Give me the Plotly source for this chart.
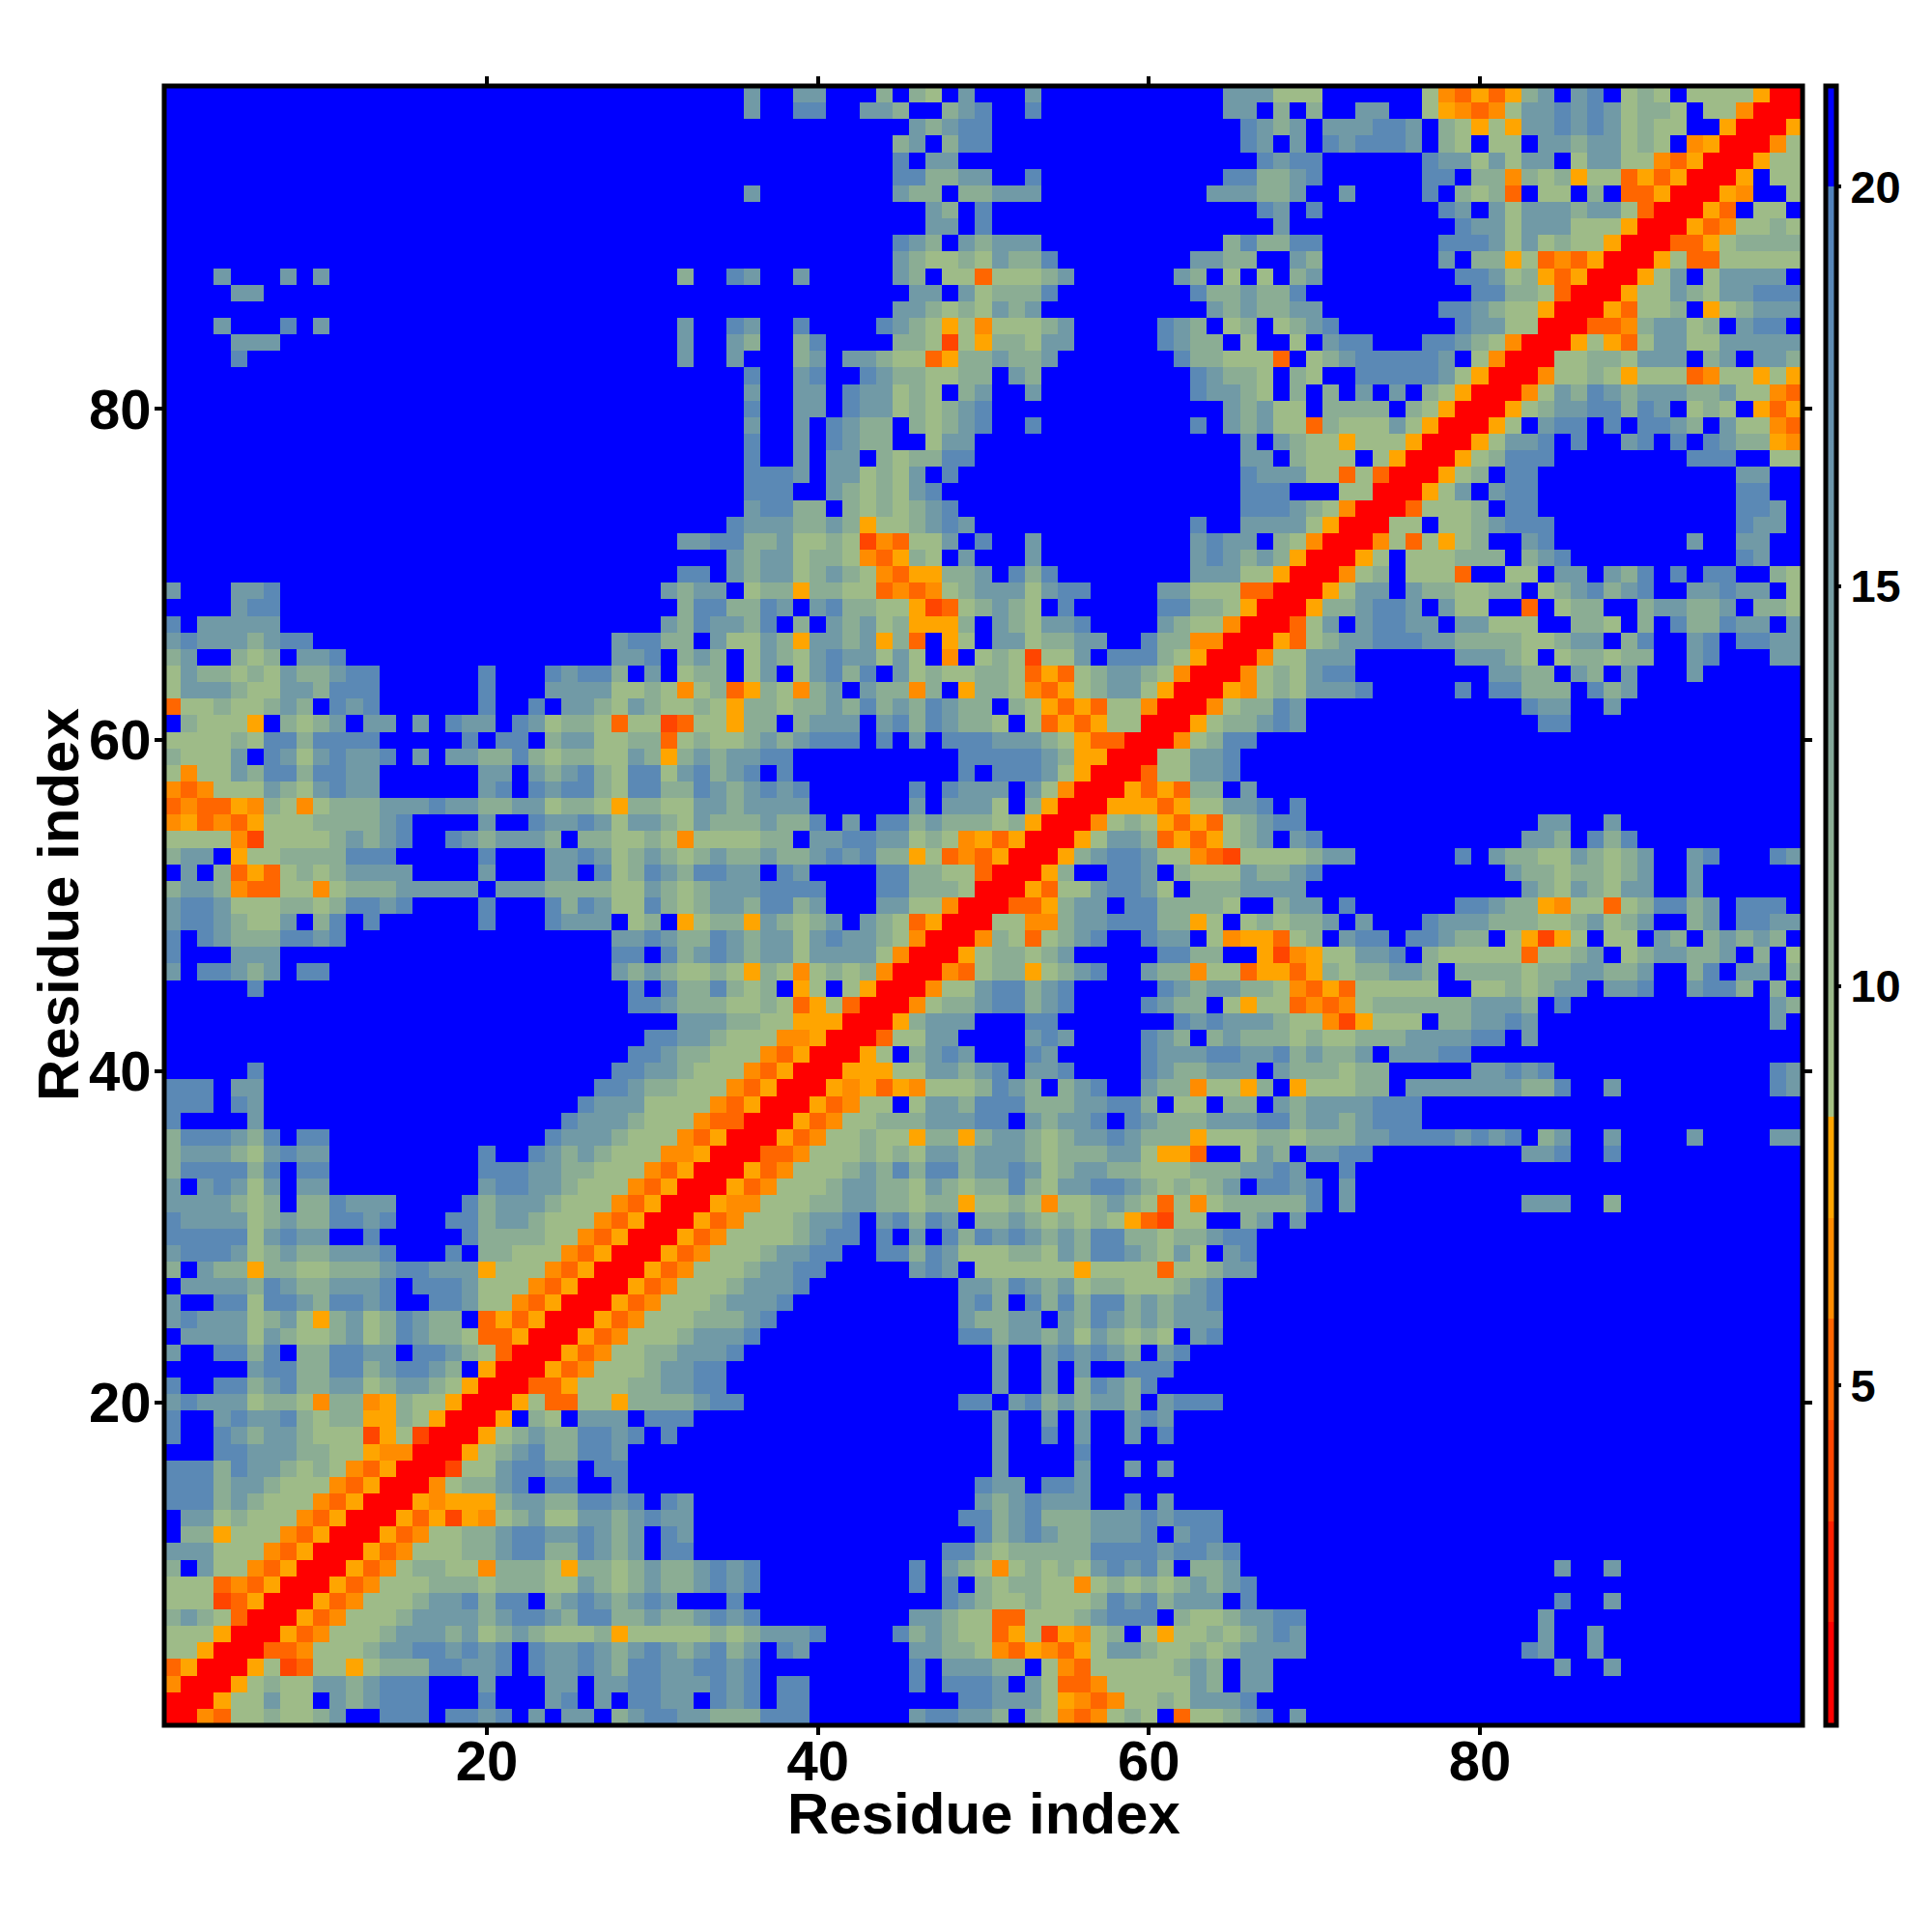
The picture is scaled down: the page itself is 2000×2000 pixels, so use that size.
import re
import plotly.graph_objects as go

# Distance classes (Å): value per letter
LEVELS = {"R": 1.2, "o": 4.0, "p": 5.2, "O": 6.5, "A": 7.7,
          "s": 9.5, "g": 12.0, "t": 15.5, "b": 18.5, ".": 21.0}

# residue j (row) vs residue i>=j. "12." means twelve blue cells.
block_a = [
"R R O p s s g s s g t . . b b b . b b t b . t . t t . g t b b t t",
"R R A s s t s s . t g t b b b . . . b . . . t b . t . b b t t .",
"R R A s g s s t t g t b b b . . . t . . . t t . t t b b t t t",
"R R A s o p s s A s g g g b b t t b . b t t b t g b b t t b",
"R R p p O s s s g t t b b t b t b . b t t b t g t b t g t",
"R R A p O s s s g t t t g t s g t g s s s g A s s s s s",
"R R A p O s s s g t t t t g t b b t g b b g g t g g t",
"R R A p O s s s g t t b g b b . g t b t g t b t . .",
"R R A p O s s s g g g s g g g s s t g s g t g g t",
"R R A p O s g g s s O g g g s A g g s g t g g t",
"R R A p O s s s g g t b b g g b t g t . b b .",
"R R A p O s s g g t b b t t b t g t . b t .",
"R R A p A o A O s g t s s t t g t b t t .",
"R R A O A A A g t t g g b b t b . b t .",
"R R O s g g t b . b b . . b . . . . .",
"R R o s s t b b t t . b b . . . . .",
"R R A s g t b g g b b t . . . . .",
"R R A s g t g g b b t b . b . .",
"R R A . g s . t t t . b b b .",
"R R A s p p s s A g g g g t",
"R R p p A s s s g g t t b",
"R R A p O s s s g t t b",
"R R A p O s s g g t t",
"R R A p O s s s g t",
"R R A p O s s s g",
"R R A p O s s s",
"R R A p O s s",
"R R A p O s",
"R R A p O",
"R R A p",
"R R A",
"R R",
"R",
]

block_b = [
"g g g b b b 6. t b b t t g . g s O p O s g s . p s s g t",
"b t b . b b 9. b b t t t s A O p O s s g s t t t b",
"b t b . b b 6. b . b b b t . t s p p O s s s s s t g . t",
"b t b 9. b . t t t g g . s O p s s s s s g t g . t",
"b g t . b t 6. t t g g s O p A O p A s t t g s s g s g t",
"g s g t t t b 4. b g t g s s p A s o A O s g . s A s s g s g",
"b t b 9. t t g s s p p s s s g t b b b . g s s g t",
". b 12. b t g s s g s s s g b t b g t t t . b",
"b t b 9. b . b . g s g g s s O s g s g s g t g t b",
"b t b 9. b . t g s O s g s g s t b t b g . g g t .",
"14. b b g s g g g g g b b b b t b b t b",
"16. b g t b t g g t t t b . t b b",
"15. b b g t b g g g t t t b t b b b",
"16. t g t b t t t . . b . t",
"16. b t t . b b t",
"17. t 4. t . . t . t",
"17. t 4. b",
"17. t . . b . t . . t . b",
"17. t . . t . t . . t b t",
"b b 13. b b . t b g t g t t g . t b b b",
"b 16. t . . t . g b t g b",
"b 16. t . . t . t . . b b b",
"t b 15. t . . t b t b t g . t b",
"t t b 12. b b g t t g t s t g s g s . t b",
"g g t b 11. t g g t t . t g b t g t g t t t",
"g t t t b 10. t b g . b g b g b b g t g t t b",
"s g t t t b 9. t t g b t g t s g g s s s g t b",
"s s g t t b b 5. t b t . s s s s s s A s s s s p s s g t t",
"s s s g t t b b . . b b g b t s s s g g s t g b b t g s t s . t b",
"O s s s s g t b b . b . t . b g b t b t g t g b b g g s g g t b b",
"p O s s s g t t b . t b g b t . g g t g s g s g s A p o s s . . g",
"A O O s s s g g t t g g s g g A s s g s O s s g t g s p s O s g g",
"R A p O s s s g t t g g s t g s g g b g s t t b b t g s g s g t .",
]

block_c = [
"b . t", "", "t", "t 17. t . . t", "t t t 13. b t . . t",
"t b t 14. t . . t", "t b b 14. t", "18. b . . t", "", "18. t . . t",
"", "", "", "", "", "", "", "", "", "",
"", "", "", "", "", "", "", "", "", "",
"t . t", "g g g b . t 10. t t t . . g", "b b t b . t",
]

block_d = [
"R R A p O s s s g t g b g b b g t t b t s g t t g g s s s g g g t",
"R R p p O s s s g s g s t t g t t t g s g g g t t s A A p . . s",
"R R A p O s s g s s A g g A g t t g s g t t b t g g g A s s s",
"R R A p O s s g g g t t t b b . t g t t b . b t g g g t t t",
"R R A p O s s . s t t g b b b g g g t t b b g . s s . g g",
"R R A O A p A O s s s g b t g . g t b . . t g g O s s A",
"R R A A A s s t t g t b . t t b 4. b t g g t t t",
"R R A s . g t b t . . . b t 5. b t t t b b t",
"R R p s s t t 4. t b t 4. b t g . g t g",
"R R A g t t t . . . b b 7. b t b t t",
"R R O s g g t b b g t b 4. b t g g . s A",
"R R O s s t b b g t b 5. b t g t t g",
"R R O p s g g A s g t b . . t g g O s s p",
"R R A s g g s g t 5. b b g g . .",
"R R O g s p s g t b . . b t t . s O A",
"R R s s O O g t t b b b g g A s . s",
"R R p p A g t t . b b g g g g s .",
"R R A p s s t b b t s . g g g t",
"R R A g . . b b t . g s s s t",
"R R A g t b b t s s O p o s",
"R R A s t t g p A p A s g",
"R R O s g s A p A p s g",
"R R A A A p A s s t t",
"R R A p A p g g . t",
"R R p s s t t b .",
"R R s s t t b .",
"R R O s g b b",
"R R A s g g",
"R R O s g",
"R R A O",
"R R O",
"R R",
"R",
]

block_e = [
"t b t . . b",
"t g . t t b b 9. t t b . . b",
"g g s g g g t t b b b b t b t b . g t . . t . . . . t . . . . t t",
"b b g t t g t b b b",
". t g t t t t b b b",
"g . A s s s g g . t t t t t t t g g b . . t 9. b t",
". t g g g s g g 5. t t b t b 13. b t",
"t b g t g g t . t t t b b",
"g g s g s s g g g t t t t b b . t",
"t g s s O o A s s s . g g t t b t 14. t .",
"s s p O p O s g g g g g g t t t g . b 12. t g",
"g s O p A p s s s s s . . s s g s g t t . t t b . . t b b g . g .",
"A A p A g s g g t t g . g g g g s g g t t g g t . . g b . t t . g",
"A o O A s s t t b . g s s s s s p s s g t . s g t t g g t . g . s",
"A p s g . t b b . b b t g g . s A o A s . s s . t g . g t g t g .",
"g s g g t . t . . . b t t t g g g s s g t s g t . . g t . b b t t",
". g t t . b 6. b b t g g A O s s p s g b b g t . b b b .",
"t t t 13. t g s t g s t t . . t",
"g g t b 11. t g g s g g s g t . . t",
"s s s g t t 6. b . t g g s s t g s g t . . t b . . . b t",
"t . t b 12. t t g . b g b",
"t b b 14. t t . . t",
"b . b",
"", "", "", "",
"t b t 14. b b",
"g b t 13. b t t . . t",
"s g s t t t b 5. b . b b g g g . b g t",
"s g s t b b 8. t t g g . t g . t . . . t",
"O s s t t t 6. t t t g s . s g g s g g . . t b . . . t t",
"R A p s g t t b b b t t g g g g s s g t t . g b . . t b . b b t t",
]

block_f = [
"R R p s t . t b b t t . t t s s s . . g g s . g . b g g b t t . t",
"R R A g g t b b t . t s s . . p . s g g . . g t t g g t . g g s",
"R R A s t t . t g g s s g g . s g t b g t b . . t t b t t . s",
"R R O s g . s s s p . . s s . t t . t g b . b . b b . . g s",
"R R A s . s s s g g g . g t b 10. b t . .",
"R R O s p s A s g . . t b 8. t . . t t . .",
"R R s s . s s g t b b b 11. b t t .",
"R R p s s s g . b b 12. b b t .",
"R R A s t . t b b 12. b b . .",
"R R A s g . b b 12. t t . .",
"R R A s g b b b 8. b b b . . s s",
"R R A s t t b . b . . t b . b . b t g g A O",
"R R A s . t b b . b . b b t g . t s s O p",
"R R A s g t t b b g b t . s g s . A p A",
"R R O s t g b t g t t t g g t s s O p",
"R R O s s g s A s s s p O s s A s A",
"R R s s g g s t t t . g t . t t g",
"R R A s A p s t t s s t t t t t",
"R R p p O g t t s g . t b b .",
"R R A p s s g . A s g t t t",
"R R A s s t g s t t b b b",
"R R A s t . s t t t t .",
"R R A s p p s s s s s",
"R R p p A s g g g g",
"R R A p O s s g s",
"R R A p . s s .",
"R R A O . . s",
"R R A . s s",
"R R A s s",
"R R O s",
"R R A",
"R R",
"R",
]

tick_vals = [20, 40, 60, 80]
bar_ticks = [5, 10, 15, 20]
z_min, z_max = 0.75, 21.26
steps = [(0.75, "#ff0000"), (2.04, "#ff2000"), (3.30, "#ff4500"),
         (4.57, "#ff6600"), (5.84, "#ff8c00"), (7.10, "#ffa500")]
sage, steel, far = "#a6c182", "#5081bd", "#0000ff"
step_end, grad_end = 8.37, 20.0


def expand(text, width):
    out = re.sub(r"(\d+)\.", lambda m: "." * int(m[1]), text).replace(" ", "")
    if len(out) > width:
        raise ValueError(f"too long {len(out)}>{width}: {text}")
    return out.ljust(width, ".")


N = 99
z = [[LEVELS["."]] * N for _ in range(N)]


def put(j, first_i, text, width):
    s = expand(text, width)
    for k, ch in enumerate(s):
        i = first_i + k
        z[j - 1][i - 1] = LEVELS[ch]
        z[i - 1][j - 1] = LEVELS[ch]


for n, t in enumerate(block_a):
    j = n + 1
    put(j, j, t, 33 - j + 1)
for n, t in enumerate(block_b):
    put(n + 1, 34, t, 33)
for n, t in enumerate(block_c):
    put(n + 1, 67, t, 33)
for n, t in enumerate(block_d):
    j = n + 34
    put(j, j, t, 66 - j + 1)
for n, t in enumerate(block_e):
    put(n + 34, 67, t, 33)
for n, t in enumerate(block_f):
    j = n + 67
    put(j, j, t, 99 - j + 1)


def pos(v):
    return (v - z_min) / (z_max - z_min)


scale = []
for k, (start, col) in enumerate(steps):
    end = steps[k + 1][0] if k + 1 < len(steps) else step_end
    scale += [[pos(start), col], [pos(end), col]]
scale += [[pos(step_end), sage], [pos(grad_end), steel], [pos(grad_end), far], [1.0, far]]

FONT = "Liberation Sans"
W = H = 2000
L, R, T, B = 170, 1866, 89, 1786

fig = go.Figure(go.Heatmap(
    x=list(range(1, N + 1)), y=list(range(1, N + 1)), z=z,
    zmin=z_min, zmax=z_max, colorscale=scale, hoverongaps=False,
    colorbar=dict(
        x=1889.5 / W, xanchor="left", xpad=0, ypad=0,
        y=1 - (T + B) / 2 / H, yanchor="middle",
        lenmode="pixels", len=B - T,
        thicknessmode="pixels", thickness=11,
        outlinecolor="black", outlinewidth=5, borderwidth=0,
        tickmode="array", tickvals=bar_ticks, ticktext=[str(v) for v in bar_ticks],
        ticks="outside", ticklen=3, tickwidth=4, tickcolor="black",
        tickfont=dict(family=FONT, size=47, color="black", weight=700),
    ),
))

axis = dict(
    range=[0.5, 99.5], tickmode="array", tickvals=tick_vals,
    ticktext=[str(v) for v in tick_vals],
    showgrid=False, zeroline=False, showline=False, mirror="ticks",
    ticks="outside", ticklen=9, tickwidth=4, tickcolor="black",
    tickfont=dict(family=FONT, size=58, color="black", weight=700),
)
title_font = dict(family=FONT, size=60, color="black", weight=700)

fig.update_layout(
    width=W, height=H, autosize=False,
    paper_bgcolor="white", plot_bgcolor="white",
    margin=dict(l=0, r=0, t=0, b=0),
    xaxis=dict(axis, domain=[L / W, R / W], ticklabelstandoff=-23),
    yaxis=dict(axis, domain=[1 - B / H, 1 - T / H], ticklabelstandoff=-8),
    shapes=[dict(type="rect", xref="paper", yref="paper", layer="above",
                 x0=L / W, x1=R / W, y0=1 - B / H, y1=1 - T / H,
                 line=dict(color="black", width=5), fillcolor="rgba(0,0,0,0)")],
    annotations=[
        dict(text="Residue index", xref="paper", yref="paper", showarrow=False,
             x=1018 / W, y=1 - 1877 / H, xanchor="center", yanchor="middle", font=title_font),
        dict(text="Residue index", xref="paper", yref="paper", showarrow=False, textangle=-90,
             x=60 / W, y=1 - 937 / H, xanchor="center", yanchor="middle", font=title_font),
    ],
)

fig.write_html("out.html", config={"displayModeBar": False},
               post_script="document.body.style.margin='0';")
